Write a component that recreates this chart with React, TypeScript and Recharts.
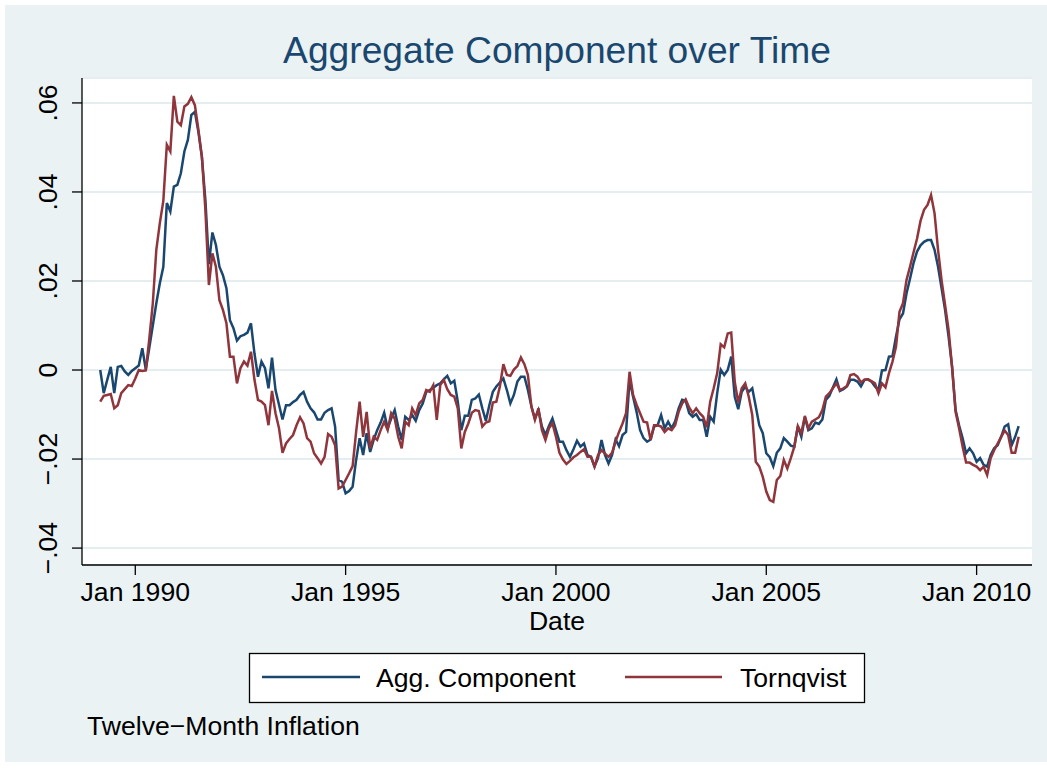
import { LineChart, Line, XAxis, YAxis, CartesianGrid } from "recharts";

// months are counted from Jan 1990 (0 = Jan 1990); first observation is Mar 1989
const firstMonth = -10;

// twelve-month inflation, aggregate component
const aggComponent = [
  0.0, -0.0052, -0.0022, 0.0007, -0.0052, 0.0007, 0.0009, -0.0003, -0.0011, -0.0002,
  0.0004, 0.001, 0.0049, 0.0001, 0.005, 0.01, 0.015, 0.0195, 0.0232, 0.0375,
  0.0356, 0.0412, 0.0416, 0.0442, 0.0491, 0.0517, 0.0573, 0.058, 0.0535, 0.0479,
  0.0382, 0.0238, 0.0309, 0.0281, 0.0232, 0.0213, 0.0184, 0.0112, 0.0094, 0.0066,
  0.0076, 0.0079, 0.0084, 0.0105, 0.0037, -0.0015, 0.0019, 0.0004, -0.0041, 0.0028,
  -0.0045, -0.0078, -0.0111, -0.0079, -0.0079, -0.0072, -0.0067, -0.0056, -0.0049, -0.0071,
  -0.0086, -0.0095, -0.0111, -0.0111, -0.0096, -0.009, -0.0086, -0.0127, -0.0247, -0.0251,
  -0.0277, -0.0272, -0.0262, -0.0202, -0.0153, -0.0191, -0.0142, -0.0184, -0.0157, -0.0135,
  -0.0118, -0.0096, -0.0131, -0.0109, -0.009, -0.0127, -0.0157, -0.0105, -0.0112, -0.0101,
  -0.0114, -0.009, -0.0075, -0.0049, -0.0045, -0.004, -0.0034, -0.003, -0.0021, -0.0013,
  -0.003, -0.0024, -0.0071, -0.0135, -0.0103, -0.0103, -0.0067, -0.0064, -0.0055, -0.0086,
  -0.0114, -0.0079, -0.0049, -0.0037, -0.0028, -0.0019, -0.0045, -0.0075, -0.0056, -0.0026,
  -0.0015, -0.0015, -0.0045, -0.0082, -0.0109, -0.009, -0.0127, -0.0146, -0.0126, -0.0109,
  -0.0135, -0.0161, -0.0161, -0.018, -0.0195, -0.0178, -0.0159, -0.0172, -0.0165, -0.0191,
  -0.0195, -0.0217, -0.0198, -0.0157, -0.0191, -0.021, -0.0191, -0.0156, -0.0171, -0.0146,
  -0.0139, -0.0022, -0.006, -0.0094, -0.0135, -0.0153, -0.0161, -0.0156, -0.0127, -0.0124,
  -0.0101, -0.0131, -0.0116, -0.0131, -0.0115, -0.0086, -0.0067, -0.0069, -0.0097, -0.0105,
  -0.0099, -0.0112, -0.0112, -0.015, -0.0105, -0.0116, -0.0052, 0.0001, -0.0011, 0.0,
  0.003, -0.006, -0.0088, -0.0049, -0.0037, -0.0049, -0.0041, -0.0082, -0.0124, -0.0142,
  -0.0187, -0.0196, -0.0216, -0.0186, -0.0176, -0.0153, -0.0161, -0.017, -0.0172, -0.0127,
  -0.015, -0.0106, -0.0135, -0.0131, -0.0118, -0.0121, -0.0111, -0.0067, -0.0058, -0.0039,
  -0.0021, -0.0047, -0.0043, -0.0037, -0.0022, -0.0022, -0.0026, -0.0037, -0.0022, -0.0021,
  -0.0026, -0.0037, -0.0045, -0.0001, 0.0, 0.003, 0.0031, 0.0075, 0.0114, 0.0127,
  0.0172, 0.0205, 0.024, 0.0266, 0.028, 0.0288, 0.0292, 0.0292, 0.027, 0.0232,
  0.0184, 0.0135, 0.0075, 0.0007, -0.009, -0.0124, -0.0153, -0.0187, -0.0176, -0.0187,
  -0.0206, -0.0198, -0.0213, -0.0217, -0.0191, -0.0176, -0.0169, -0.015, -0.0127, -0.0122,
  -0.0169, -0.015, -0.0126,
];

// twelve-month inflation, Tornqvist index
const tornqvist = [
  -0.0071, -0.0058, -0.0056, -0.0054, -0.0086, -0.0079, -0.0052, -0.0043, -0.0034, -0.0036,
  -0.0019, 0.0, -0.0002, -0.0001, 0.007, 0.015, 0.027, 0.033, 0.038, 0.0506,
  0.0491, 0.0616, 0.0558, 0.055, 0.0592, 0.0598, 0.0613, 0.0595, 0.054, 0.0479,
  0.036, 0.0191, 0.0262, 0.0232, 0.0157, 0.0135, 0.0105, 0.003, 0.003, -0.003,
  0.0004, 0.0019, 0.001, 0.0041, -0.0022, -0.0067, -0.0071, -0.0079, -0.0124, -0.0047,
  -0.0097, -0.0131, -0.0186, -0.0165, -0.0155, -0.0146, -0.0124, -0.0106, -0.012, -0.0153,
  -0.0161, -0.0187, -0.0198, -0.021, -0.0195, -0.0144, -0.015, -0.0169, -0.0266, -0.0262,
  -0.0247, -0.0232, -0.0216, -0.0139, -0.0071, -0.015, -0.0094, -0.0176, -0.015, -0.0157,
  -0.0135, -0.0116, -0.0135, -0.0097, -0.0109, -0.015, -0.0176, -0.0116, -0.0124, -0.0086,
  -0.0101, -0.0075, -0.0067, -0.0045, -0.0049, -0.0034, -0.0112, -0.0034, -0.0022, -0.0043,
  -0.0056, -0.006, -0.0086, -0.0176, -0.0139, -0.012, -0.0096, -0.009, -0.0092, -0.0127,
  -0.0118, -0.0115, -0.0073, -0.0071, -0.0037, 0.0013, -0.0011, -0.0013, 0.0001, 0.0009,
  0.0028, 0.0013, -0.0011, -0.0082, -0.0112, -0.0086, -0.0135, -0.0157, -0.0131, -0.012,
  -0.015, -0.0186, -0.0201, -0.0211, -0.0204, -0.0196, -0.0191, -0.0184, -0.0178, -0.0195,
  -0.0195, -0.0217, -0.0191, -0.018, -0.0188, -0.0195, -0.0186, -0.0161, -0.0139, -0.012,
  -0.0097, -0.0004, -0.0056, -0.0078, -0.0097, -0.0116, -0.0118, -0.0157, -0.0124, -0.0124,
  -0.0127, -0.0139, -0.0131, -0.0135, -0.0124, -0.0094, -0.0075, -0.0066, -0.0084, -0.0097,
  -0.0086, -0.0097, -0.0105, -0.0129, -0.0071, -0.0041, -0.0007, 0.0058, 0.0051, 0.0082,
  0.0084, -0.0026, -0.0073, -0.0041, -0.003, -0.006, -0.0101, -0.0206, -0.0217, -0.024,
  -0.0273, -0.0292, -0.0296, -0.0247, -0.0238, -0.0202, -0.0221, -0.0198, -0.0172, -0.0126,
  -0.0142, -0.0103, -0.0131, -0.0116, -0.0111, -0.0106, -0.009, -0.006, -0.0052, -0.0041,
  -0.003, -0.0045, -0.0041, -0.0036, -0.0011, -0.0009, -0.0015, -0.0028, -0.0022, -0.0021,
  -0.0025, -0.003, -0.0052, -0.003, -0.0039, -0.0007, 0.0019, 0.0052, 0.0131, 0.015,
  0.0202, 0.0232, 0.0264, 0.0295, 0.0335, 0.036, 0.0371, 0.0393, 0.0352, 0.027,
  0.0202, 0.0146, 0.009, 0.0007, -0.0094, -0.0131, -0.0172, -0.0208, -0.0208, -0.0213,
  -0.0217, -0.0225, -0.0217, -0.0236, -0.0198, -0.018, -0.0165, -0.015, -0.0136, -0.0146,
  -0.0186, -0.0186, -0.015,
];

const xTicks = [0, 60, 120, 180, 240];
const xTickLabels = ["Jan 1990", "Jan 1995", "Jan 2000", "Jan 2005", "Jan 2010"];
const yTicks = [-0.04, -0.02, 0, 0.02, 0.04, 0.06];
const yTickLabels = ["\u2212.04", "\u2212.02", "0", ".02", ".04", ".06"];

const BLUE = "#1a476f";
const RED = "#90353b";
const FONT = '"Liberation Sans", Arial, Helvetica, sans-serif';
const TXT = 26.6;

const chartData = aggComponent.map((v, i) => ({
  month: firstMonth + i,
  agg: v,
  torn: tornqvist[i],
}));

const XTick = (props: any) => {
  const { x, payload } = props;
  const label = xTickLabels[xTicks.indexOf(payload.value)];
  return (
    <text x={x} y={601} textAnchor="middle" fontSize={TXT} fontFamily={FONT} fill="#000">
      {label}
    </text>
  );
};

const YTick = (props: any) => {
  const { y, payload } = props;
  const label = yTickLabels[yTicks.indexOf(payload.value)];
  const bx = 57;
  return (
    <text
      x={bx}
      y={y}
      transform={`rotate(-90 ${bx} ${y})`}
      textAnchor="middle"
      fontSize={TXT}
      fontFamily={FONT}
      fill="#000"
    >
      {label}
    </text>
  );
};

export default function App() {
  return (
    <div
      style={{
        position: "absolute",
        left: 0,
        top: 0,
        width: 1047,
        height: 769,
        background: "#ffffff",
        fontFamily: FONT,
      }}
    >
      <div
        style={{
          position: "absolute",
          left: 5,
          top: 5,
          width: 1042,
          height: 757,
          background: "#eaf2f3",
        }}
      />

      <div style={{ position: "absolute", left: 0, top: 0 }}>
        <LineChart
          width={1047}
          height={769}
          data={chartData}
          margin={{ top: 78, right: 15, bottom: 164, left: 0 }}
        >
          <CartesianGrid
            horizontal
            vertical={false}
            fill="#ffffff"
            fillOpacity={1}
            stroke="#e4edf0"
            strokeWidth={2}
          />
          <XAxis
            dataKey="month"
            type="number"
            domain={[-15.2, 255.8]}
            ticks={xTicks}
            interval={0}
            allowDataOverflow
            height={40}
            tickSize={10}
            axisLine={{ stroke: "#000", strokeWidth: 1.3 }}
            tickLine={{ stroke: "#000", strokeWidth: 1.3 }}
            tick={XTick}
          />
          <YAxis
            type="number"
            domain={[-0.0438, 0.0656]}
            ticks={yTicks}
            interval={0}
            allowDataOverflow
            width={82}
            tickSize={10}
            axisLine={{ stroke: "#000", strokeWidth: 1.3 }}
            tickLine={{ stroke: "#000", strokeWidth: 1.3 }}
            tick={YTick}
          />
          <Line
            type="linear"
            dataKey="agg"
            name="Agg. Component"
            stroke={BLUE}
            strokeWidth={2.5}
            dot={false}
            isAnimationActive={false}
          />
          <Line
            type="linear"
            dataKey="torn"
            name="Tornqvist"
            stroke={RED}
            strokeWidth={2.5}
            dot={false}
            isAnimationActive={false}
          />
        </LineChart>
      </div>

      <svg
        width={1047}
        height={769}
        style={{ position: "absolute", left: 0, top: 0, pointerEvents: "none" }}
        fontFamily={FONT}
      >
        <text x={557} y={63} textAnchor="middle" fontSize={37.2} fill={BLUE}>
          Aggregate Component over Time
        </text>
        <text x={557} y={630} textAnchor="middle" fontSize={TXT} fill="#000">
          Date
        </text>
        <rect x={249.5} y={653.5} width={615} height={49} fill="#ffffff" stroke="#000" strokeWidth={1.3} />
        <line x1={262} x2={360} y1={677} y2={677} stroke={BLUE} strokeWidth={2.5} />
        <text x={376} y={687} fontSize={TXT} fill="#000">
          Agg. Component
        </text>
        <line x1={625} x2={722} y1={677} y2={677} stroke={RED} strokeWidth={2.5} />
        <text x={740} y={687} fontSize={TXT} fill="#000">
          Tornqvist
        </text>
        <text x={87} y={735} fontSize={TXT} fill="#000">
          Twelve{"\u2212"}Month Inflation
        </text>
      </svg>
    </div>
  );
}
